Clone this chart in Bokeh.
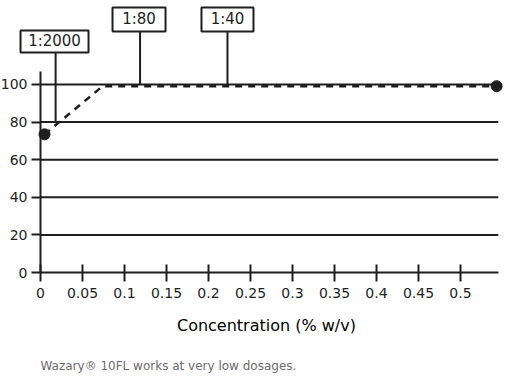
from bokeh.plotting import figure
from bokeh.models import Range1d, FixedTicker
from bokeh.core.properties import value
from bokeh.embed import file_html
from bokeh.resources import INLINE

# ---- data ----
x_ticks = [0, 0.05, 0.1, 0.15, 0.2, 0.25, 0.3, 0.35, 0.4, 0.45, 0.5]
x_tick_labels = ["0", "0.05", "0.1", "0.15", "0.2", "0.25", "0.3", "0.35", "0.4", "0.45", "0.5"]
y_ticks = [0, 20, 40, 60, 80, 100]
grid_levels = [20, 40, 60, 80, 100]
curve_x = [0.0048, 0.074, 0.543]
curve_y = [73.5, 99.1, 99.1]
point_x = [0.0048, 0.543]
point_y = [73.5, 99.1]
dilution_labels = ["1:2000", "1:80", "1:40"]
dilution_x = [0.018, 0.1185, 0.2226]
dilution_level = [80, 100, 100]
x_label = "Concentration (% w/v)"
caption = "Wazary® 10FL works at very low dosages."

FONT = "DejaVu Sans"
INK = "#1e1e1e"
x_end = 0.545

p = figure(width=508, height=377, output_backend="svg", toolbar_location=None,
           x_range=Range1d(-0.047619, 0.557143), y_range=Range1d(-55.85, 144.68),
           min_border=0)
p.outline_line_color = None
p.xgrid.visible = False
p.ygrid.visible = False

# axes (drawn at the data origin)
xa = p.xaxis[0]
xa.fixed_location = 0
xa.ticker = FixedTicker(ticks=x_ticks)
xa.major_label_overrides = {t: l for t, l in zip(x_ticks, x_tick_labels)}
xa.bounds = (0, x_end)
xa.axis_line_width = 2
xa.axis_line_color = INK
xa.major_tick_line_width = 2
xa.major_tick_line_color = INK
xa.major_tick_in = 8
xa.major_tick_out = 9
xa.minor_tick_line_color = None
xa.major_label_standoff = 6
xa.major_label_text_font = FONT
xa.major_label_text_font_size = "14px"
xa.major_label_text_color = INK

ya = p.yaxis[0]
ya.fixed_location = 0
ya.ticker = FixedTicker(ticks=y_ticks)
ya.bounds = (0, 107)
ya.axis_line_width = 2
ya.axis_line_color = INK
ya.major_tick_line_width = 2
ya.major_tick_line_color = INK
ya.major_tick_in = 0
ya.major_tick_out = 9
ya.minor_tick_line_color = None
ya.major_label_standoff = 4
ya.major_label_text_font = FONT
ya.major_label_text_font_size = "14px"
ya.major_label_text_color = INK

# horizontal reference lines
p.segment(x0=[0] * len(grid_levels), x1=[x_end] * len(grid_levels),
          y0=grid_levels, y1=grid_levels, line_color=INK, line_width=2)

# dilution markers (stems + boxes)
box_y = [122.9, 134.6, 134.6]
box_w = [68, 53, 52]
box_h = [22, 24, 24]
stem_top = [117.0, 128.2, 128.2]
p.segment(x0=dilution_x, x1=dilution_x, y0=stem_top, y1=dilution_level,
          line_color=INK, line_width=2)
box_cx = [0.0167, 0.1173, 0.2226]
p.rect(x=box_cx, y=box_y, width=box_w, height=box_h, width_units="screen",
       height_units="screen", fill_color="white", line_color=INK, line_width=2)
p.text(x=box_cx, y=box_y, text=dilution_labels, text_font=value(FONT),
       text_font_size="15px", text_align="center", text_baseline="middle",
       text_color=INK)

# curve
p.line(curve_x, curve_y, line_color=INK, line_width=2.5, line_dash="7 6")
p.scatter(point_x, point_y, size=11, fill_color=INK, line_color=INK)

# axis title and caption
p.text(x=[0.2690], y=[-28.2], text=[x_label], text_font=value(FONT),
       text_font_size="16px", text_align="center", text_baseline="middle",
       text_color="#000000")
p.text(x=[0.0], y=[-49.5], text=[caption], text_font=value(FONT),
       text_font_size="12px", text_align="left", text_baseline="middle",
       text_color="#6b6b6b")

open("out.html", "w").write(file_html(p, INLINE))
